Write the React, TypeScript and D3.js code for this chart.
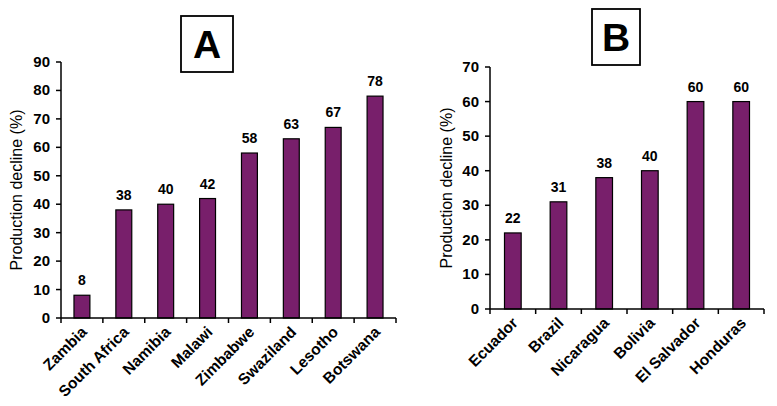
import React from 'react';
import * as d3 from 'd3';

// panel A - southern Africa
const countriesA = ['Zambia', 'South Africa', 'Namibia', 'Malawi', 'Zimbabwe', 'Swaziland', 'Lesotho', 'Botswana'];
const declineA = [8, 38, 40, 42, 58, 63, 67, 78];
const ticksA = [0, 10, 20, 30, 40, 50, 60, 70, 80, 90];

// panel B - latin america
const countriesB = ['Ecuador', 'Brazil', 'Nicaragua', 'Bolivia', 'El Salvador', 'Honduras'];
const declineB = [22, 31, 38, 40, 60, 60];
const ticksB = [0, 10, 20, 30, 40, 50, 60, 70];

const FONT = '"Liberation Sans", Arial, sans-serif';
const BAR = '#781f6b';

interface PanelProps {
  label: string;
  cats: string[];
  vals: number[];
  ticks: number[];
  x0: number;
  x1: number;
  yTop: number;
  yBottom: number;
  titleX: number;
  box: [number, number, number, number];
  pad: number;
}

function Panel({ label, cats, vals, ticks, x0, x1, yTop, yBottom, titleX, box, pad }: PanelProps) {
  const x = d3.scaleBand<string>().domain(cats).range([x0, x1]).paddingInner(pad).paddingOuter(pad / 2);
  const y = d3.scaleLinear().domain([0, d3.max(ticks) as number]).range([yBottom, yTop]);
  const step = x.step();
  const bw = x.bandwidth();

  return (
    <g fontFamily={FONT}>
      {/* label box */}
      <rect x={box[0]} y={box[1]} width={box[2]} height={box[3]} fill="#fff" stroke="#000" strokeWidth={1.8} />
      <text x={box[0] + box[2] / 2} y={box[1] + box[3] / 2 + 14} textAnchor="middle" fontSize={39} fontWeight="bold">{label}</text>

      {/* bars */}
      {cats.map((c, i) => (
        <g key={c}>
          <rect x={x(c)} y={y(vals[i])} width={bw} height={yBottom - y(vals[i])} fill={BAR} stroke="#000" strokeWidth={1.2} />
          <text x={(x(c) as number) + bw / 2} y={y(vals[i]) - 10} textAnchor="middle" fontSize={14} fontWeight="bold">{vals[i]}</text>
          <text
            transform={`translate(${(x(c) as number) + bw / 2 + 6},${yBottom + 15}) rotate(-45)`}
            textAnchor="end" fontSize={15.5} fontWeight="bold">{c}</text>
        </g>
      ))}

      {/* y axis */}
      <line x1={x0} x2={x0} y1={yTop} y2={yBottom} stroke="#000" strokeWidth={1.5} />
      {ticks.map(t => (
        <g key={t}>
          <line x1={x0 - 5} x2={x0} y1={y(t)} y2={y(t)} stroke="#000" strokeWidth={1.5} />
          <text x={x0 - 11} y={y(t) + 5} textAnchor="end" fontSize={15} fontWeight="bold">{t}</text>
        </g>
      ))}
      <text transform={`translate(${titleX},${(yTop + yBottom) / 2}) rotate(-90)`} textAnchor="middle" fontSize={16}>Production decline (%)</text>

      {/* x axis */}
      <line x1={x0} x2={x1} y1={yBottom} y2={yBottom} stroke="#000" strokeWidth={1.5} />
      {d3.range(cats.length + 1).map(i => (
        <line key={i} x1={x0 + i * step} x2={x0 + i * step} y1={yBottom} y2={yBottom + 5} stroke="#000" strokeWidth={1.5} />
      ))}
    </g>
  );
}

export default function App() {
  return (
    <svg width={777} height={406} style={{ position: 'absolute', left: 0, top: 0, background: '#fff' }}>
      <rect width={777} height={406} fill="#fff" />
      <Panel label="A" cats={countriesA} vals={declineA} ticks={ticksA}
        x0={61} x1={396} yTop={62} yBottom={318} titleX={22} box={[181, 16, 52, 56]} pad={0.62} />
      <Panel label="B" cats={countriesB} vals={declineB} ticks={ticksB}
        x0={490} x1={764} yTop={67} yBottom={309} titleX={452} box={[592, 9, 48, 56]} pad={0.635} />
    </svg>
  );
}
